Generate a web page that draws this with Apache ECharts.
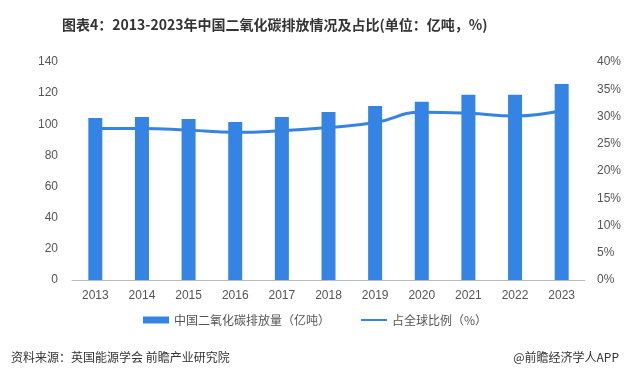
<!DOCTYPE html>
<html>
<head>
<meta charset="utf-8">
<script src="https://cdn.jsdelivr.net/npm/echarts@6/dist/echarts.min.js"></script>
<style>
	html, body { margin: 0; padding: 0; background: #fff; }
	#chart { width: 630px; height: 375px; }
</style>
</head>
<body>
<div id="chart"></div>
<script>
	var years = ['2013', '2014', '2015', '2016', '2017', '2018', '2019', '2020', '2021', '2022', '2023'];
	var emission = [104.0, 104.7, 103.4, 101.5, 104.7, 107.9, 111.8, 114.4, 118.9, 118.9, 125.9];
	var share = [27.8, 27.8, 27.5, 27.1, 27.4, 28.0, 28.9, 30.8, 30.6, 30.1, 31.1];
	var seriesNames = ['中国二氧化碳排放量（亿吨）', '占全球比例（%）'];

	var blue = '#3584e4';
	var myChart = echarts.init(document.getElementById('chart'));
	var option = {
		backgroundColor: '#fff',
		title: [{
			text: '图表4：2013-2023年中国二氧化碳排放情况及占比(单位：亿吨，%)',
			left: 57,
			top: 13,
			textStyle: {
				color: '#333',
				fontSize: 14,
				fontWeight: 'bold',
				fontFamily: '"Liberation Sans Narrow", "Noto Sans CJK SC"'
			}
		}, {
			text: '资料来源：英国能源学会 前瞻产业研究院',
			left: 6,
			top: 346,
			textStyle: { color: '#333', fontSize: 12, fontWeight: 'normal', fontFamily: 'Noto Sans CJK SC' }
		}, {
			text: '@前瞻经济学人APP',
			right: 6,
			top: 346,
			textStyle: { color: '#333', fontSize: 12, fontWeight: 'normal', fontFamily: 'Noto Sans CJK SC' }
		}],
		legend: {
			bottom: 44,
			left: 'center',
			itemGap: 30,
			itemWidth: 26,
			itemHeight: 7,
			textStyle: { color: '#555', fontSize: 12, fontFamily: 'Noto Sans CJK SC' },
			data: [
				{ name: seriesNames[0], icon: 'rect' },
				{ name: seriesNames[1] }
			]
		},
		grid: {
			left: 72,
			right: 45,
			top: 62,
			bottom: 95
		},
		xAxis: {
			type: 'category',
			data: years,
			axisLine: { lineStyle: { color: '#bbb' } },
			axisTick: { show: false },
			axisLabel: { color: '#555', fontSize: 12, margin: 10 }
		},
		yAxis: [{
			type: 'value',
			min: 0,
			max: 140,
			interval: 20,
			splitLine: { show: false },
			axisLine: { show: false },
			axisTick: { show: false },
			axisLabel: { color: '#555', fontSize: 12, margin: 14 }
		}, {
			type: 'value',
			min: 0,
			max: 40,
			interval: 5,
			splitLine: { show: false },
			axisLine: { show: false },
			axisTick: { show: false },
			axisLabel: { color: '#555', fontSize: 12, margin: 12, formatter: '{value}%' }
		}],
		series: [{
			name: seriesNames[0],
			type: 'bar',
			barWidth: 14,
			itemStyle: { color: blue },
			data: emission
		}, {
			name: seriesNames[1],
			type: 'line',
			yAxisIndex: 1,
			smooth: true,
			showSymbol: false,
			lineStyle: { color: blue, width: 3 },
			itemStyle: { color: blue, opacity: 0 },
			data: share
		}]
	};
	myChart.setOption(option);
</script>
</body>
</html>
